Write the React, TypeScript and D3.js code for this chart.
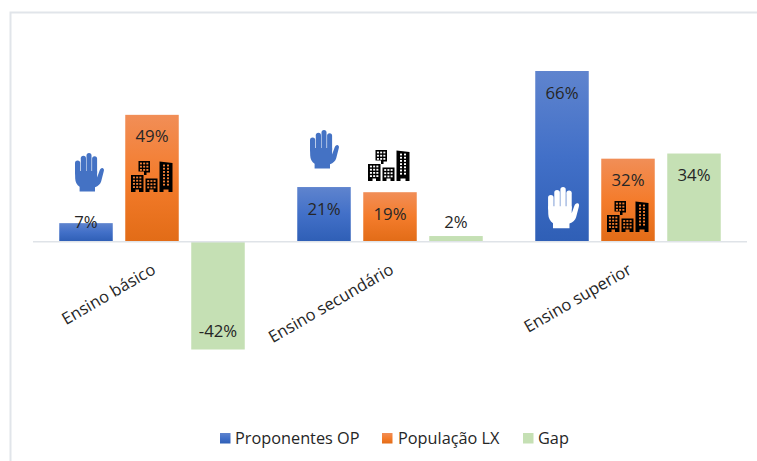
import React from "react";
import * as d3 from "d3";

const categories = ["Ensino básico", "Ensino secundário", "Ensino superior"];
const seriesNames = ["Proponentes OP", "População LX", "Gap"];
const proponentes = [7, 21, 66];
const populacao = [49, 19, 32];
const gap = [-42, 2, 34];
const seriesValues = [proponentes, populacao, gap];

const W = 757;
const H = 461;
const FONT = "'Open Sans', 'Noto Sans', sans-serif";
const TEXT = "#262626";

const x0 = d3.scaleBand<string>().domain(categories).range([33, 747]);
const y = d3.scaleLinear().domain([-42, 66]).range([349.5, 71]);
const barW = 53.5;
const barStep = 66;

// Where the value label's centre sits for a given bar.
function labelY(v: number): number {
  if (v < 0) return y(v) - 19.5;
  if (v < 10) return v < 5 ? y(v) - 14.5 : y(v) - 1.5;
  return y(v) + 21;
}

function barFill(s: number): string {
  return s === 0 ? "url(#gradBlue)" : s === 1 ? "url(#gradOrange)" : "#c5e0b4";
}

// Skyline pictogram in a 42x32 box: four towers, the last with a slanted roof.
const TOWERS: { d: string; x: number; y: number; w: number; h: number }[] = [
  { d: "M0 15H12.5V32H8V29.5H4.5V32H0Z", x: 0, y: 15, w: 12.5, h: 14 },
  { d: "M7.5 1H19V12.5H15.5V15H13V11.5H7.5Z", x: 7.5, y: 1, w: 11.5, h: 11 },
  { d: "M14.5 18.5H26.5V32H22.5V29.5H18.5V32H14.5Z", x: 14.5, y: 18.5, w: 12, h: 11 },
  { d: "M28.5 1.5L41.5 3V32H37.5V29.5H32.5V32H28.5Z", x: 28.5, y: 3, w: 13, h: 26 },
];

function Skyline({ x, top, glass }: { x: number; top: number; glass: string }) {
  return (
    <g transform={`translate(${x},${top})`}>
      {TOWERS.map((t, i) => (
        <g key={i}>
          <path d={t.d} fill="#000000" />
          {d3.range(Math.floor((t.h - 1) / 3.2)).map((r) =>
            d3.range(i === 3 ? 2 : 3).map((c) => (
              <rect
                key={`${r}-${c}`}
                x={t.x + t.w / 2 + (i === 3 ? -3 + c * 4 : -4.3 + c * 3.2)}
                y={t.y + 1.6 + r * 3.2}
                width={2}
                height={1.8}
                fill={glass}
              />
            )),
          )}
        </g>
      ))}
    </g>
  );
}

// Raised-hand pictogram in a 30x39 box; the fingers stay separate down to the palm.
const FINGERS: [number, number, number][] = [
  [1, 5.2, 7.5],
  [6.8, 5.2, 2.7],
  [12.5, 5, 0],
  [18.1, 5, 3.3],
];
const PALM = "M1 18H23.1V24.5L25.6 17.6C26.2 15.8 27.4 14.8 28.8 15.2C30.1 15.7 30.2 17 29.7 18.6L27.2 28.2C26.4 31 24.3 33 21 34.2V38.5H5.6V33.8C2.8 31.8 1.3 28.8 1.2 25.4Z";

function Hand({ x, top, color, scale = 1 }: { x: number; top: number; color: string; scale?: number }) {
  return (
    <g transform={`translate(${x},${top}) scale(${scale})`} fill={color}>
      {FINGERS.map(([fx, fw, ft]) => (
        <rect key={fx} x={fx} y={ft} width={fw} height={22 - ft} rx={fw / 2} />
      ))}
      <path d={PALM} />
    </g>
  );
}

const barX = (cat: string, s: number) => x0(cat)! + x0.bandwidth() / 2 - barW / 2 + (s - 1) * barStep;

const legendItems = [
  { sq: 220, tx: 235 },
  { sq: 382, tx: 398 },
  { sq: 523, tx: 538 },
];

export default function App() {
  const zero = y(0);
  return (
    <svg
      width={W}
      height={H}
      viewBox={`0 0 ${W} ${H}`}
      style={{ position: "absolute", left: 0, top: 0, background: "#fff", fontFamily: FONT }}
    >
      <defs>
        <linearGradient id="gradBlue" x1="0" y1="0" x2="0" y2="1">
          <stop offset="0" stopColor="#5f84ce" />
          <stop offset="0.5" stopColor="#4270c8" />
          <stop offset="1" stopColor="#2f5fb6" />
        </linearGradient>
        <linearGradient id="gradOrange" x1="0" y1="0" x2="0" y2="1">
          <stop offset="0" stopColor="#f18e57" />
          <stop offset="0.5" stopColor="#f47c2c" />
          <stop offset="1" stopColor="#e26c17" />
        </linearGradient>
      </defs>

      {/* Chart frame, open on the right and at the bottom */}
      <path d={`M10.5 ${H}V12.5H${W}`} fill="none" stroke="#e1e5ea" strokeWidth={2} />

      {/* Bars */}
      {categories.map((cat, i) =>
        seriesValues.map((vals, s) => {
          const v = vals[i];
          return (
            <rect
              key={`${cat}-${s}`}
              x={barX(cat, s)}
              y={Math.min(y(v), zero)}
              width={barW}
              height={Math.abs(y(v) - zero)}
              fill={barFill(s)}
            />
          );
        }),
      )}

      {/* Zero line */}
      <line x1={33} x2={747} y1={zero + 0.5} y2={zero + 0.5} stroke="#dfe3e8" strokeWidth={1.5} />

      {/* Pictograms */}
      <Hand x={74} top={153} color="#4472c4" />
      <Skyline x={131} top={160} glass="#f07f35" />
      <Hand x={309} top={130} color="#4472c4" />
      <Skyline x={368} top={149} glass="#ffffff" />
      <Hand x={547} top={187} color="#ffffff" scale={1.07} />
      <Skyline x={607} top={200} glass="#ef7a2a" />

      {/* Value labels */}
      {categories.map((cat, i) =>
        seriesValues.map((vals, s) => (
          <text
            key={`${cat}-label-${s}`}
            x={barX(cat, s) + barW / 2}
            y={labelY(vals[i])}
            textAnchor="middle"
            dominantBaseline="central"
            fontSize={16.8}
            fill={TEXT}
          >
            {`${vals[i]}%`}
          </text>
        )),
      )}

      {/* Category labels, rotated and ending under the middle of each group */}
      {categories.map((cat) => (
        <text
          key={cat}
          transform={`translate(${x0(cat)! + x0.bandwidth() / 2 + 1.5},${zero + 26}) rotate(-30)`}
          textAnchor="end"
          dominantBaseline="central"
          fontSize={16.5}
          fill={TEXT}
        >
          {cat}
        </text>
      ))}

      {/* Legend */}
      {seriesNames.map((name, s) => (
        <g key={name}>
          <rect x={legendItems[s].sq} y={433} width={10.5} height={10.5} fill={barFill(s)} />
          <text x={legendItems[s].tx} y={437.5} dominantBaseline="central" fontSize={16.3} fill={TEXT}>
            {name}
          </text>
        </g>
      ))}
    </svg>
  );
}
